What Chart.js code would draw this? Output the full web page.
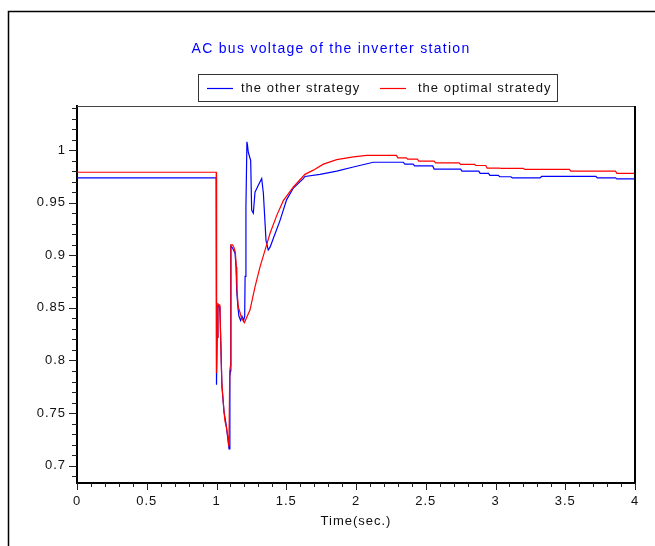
<!DOCTYPE html>
<html>
<head>
<meta charset="utf-8">
<title>AC bus voltage of the inverter station</title>
<script src="https://cdn.jsdelivr.net/npm/chart.js@4.4.1/dist/chart.umd.min.js"></script>
<style>
  html, body { margin: 0; padding: 0; background: #fff; }
</style>
</head>
<body>
<canvas id="busChart" width="655" height="546"></canvas>
<script>
const chartTitle = 'AC bus voltage of the inverter station';
const seriesNames = ['the other strategy', 'the optimal stratedy'];
const seriesColors = ['#0000ff', '#ff0000'];
const xAxisTitle = 'Time(sec.)';

// blue trace
const otherTime = [0, 0.998, 1.0, 1.004, 1.01, 1.02, 1.025, 1.03, 1.039, 1.054, 1.068, 1.079, 1.09, 1.096, 1.1,
  1.103, 1.115, 1.133, 1.14, 1.145, 1.154, 1.161, 1.173, 1.183, 1.194, 1.202, 1.205, 1.211, 1.218, 1.222, 1.228,
  1.245, 1.252, 1.264, 1.276, 1.297, 1.324, 1.336, 1.355, 1.371, 1.385, 1.407, 1.455, 1.503, 1.551, 1.622, 1.634,
  1.742, 1.862, 1.981, 2.124, 2.34, 2.35, 2.41, 2.42, 2.55, 2.56, 2.75, 2.76, 2.88, 2.89, 2.95, 2.96, 3.02, 3.03,
  3.11, 3.12, 3.32, 3.33, 3.72, 3.73, 3.86, 3.87, 4.0];
const otherVoltage = [0.9737, 0.9737, 0.777, 0.822, 0.852, 0.851, 0.846, 0.821, 0.775, 0.751, 0.740, 0.728, 0.716, 0.785, 0.79,
  0.909, 0.907, 0.902, 0.889, 0.866, 0.85, 0.842, 0.838, 0.842, 0.838, 0.842, 0.88, 0.945, 1.008, 1.005, 0.998,
  0.990, 0.943, 0.94, 0.960, 0.966, 0.973, 0.959, 0.914, 0.905, 0.908, 0.916, 0.933, 0.953, 0.964, 0.973, 0.975,
  0.977, 0.980, 0.984, 0.9885, 0.9885, 0.9867, 0.9867, 0.985, 0.985, 0.982, 0.982, 0.980, 0.980, 0.978, 0.978, 0.976, 0.976, 0.9747,
  0.9747, 0.9737, 0.9737, 0.975, 0.975, 0.9737, 0.9737, 0.9727, 0.9727];

// red trace
const optimalTime = [0, 0.998, 1.0, 1.005, 1.01, 1.02, 1.025, 1.03, 1.038, 1.054, 1.061, 1.072, 1.082, 1.089, 1.095, 1.1,
  1.103, 1.115, 1.125, 1.135, 1.142, 1.147, 1.156, 1.168, 1.18, 1.19, 1.2, 1.22, 1.24, 1.276, 1.312, 1.348, 1.384,
  1.432, 1.479, 1.551, 1.634, 1.694, 1.766, 1.862, 1.981, 2.077, 2.29, 2.30, 2.36, 2.37, 2.44, 2.45, 2.56, 2.57,
  2.74, 2.75, 2.85, 2.86, 2.93, 2.94, 3.03, 3.04, 3.20, 3.21, 3.53, 3.54, 3.86, 3.87, 4.0];
const optimalVoltage = [0.979, 0.979, 0.788, 0.822, 0.854, 0.853, 0.848, 0.822, 0.779, 0.751, 0.742, 0.736, 0.727, 0.718, 0.79, 0.795,
  0.91, 0.91, 0.9075, 0.903, 0.889, 0.867, 0.851, 0.846, 0.84, 0.838, 0.836, 0.842, 0.848, 0.870, 0.889, 0.905, 0.921,
  0.938, 0.952, 0.965, 0.977, 0.981, 0.9867, 0.991, 0.9937, 0.995, 0.995, 0.9927, 0.9927, 0.9914, 0.9914, 0.9895, 0.9895, 0.988,
  0.988, 0.9864, 0.9864, 0.9854, 0.9854, 0.983, 0.983, 0.9826, 0.9826, 0.9817, 0.9817, 0.980, 0.980, 0.978, 0.978];

const FONT = '"Liberation Sans", Arial, sans-serif';

function toPoints(ts, vs) {
  return ts.map((t, i) => ({ x: t, y: vs[i] }));
}

// frame, minor/major ticks, title and boxed legend
const decorPlugin = {
  id: 'decor',
  beforeDraw(chart) {
    chart.ctx.letterSpacing = '1px';
  },
  afterDraw(chart) {
    const { ctx, chartArea: a, scales: { x, y } } = chart;
    ctx.save();
    ctx.strokeStyle = '#000';
    ctx.lineWidth = 1.5;
    ctx.beginPath();
    ctx.moveTo(8.5, 546); ctx.lineTo(8.5, 11.5); ctx.lineTo(655, 11.5);
    ctx.stroke();

    ctx.lineWidth = 1;
    ctx.strokeStyle = '#444';
    ctx.beginPath();
    ctx.moveTo(a.left, a.top + 0.5); ctx.lineTo(a.right, a.top + 0.5);
    ctx.stroke();
    ctx.lineWidth = 2;
    ctx.strokeStyle = '#000';
    ctx.beginPath();
    ctx.moveTo(a.right, a.top); ctx.lineTo(a.right, a.bottom);
    ctx.stroke();

    ctx.lineWidth = 1;
    ctx.strokeStyle = '#222';
    y.ticks.forEach(t => {
      const py = Math.round(y.getPixelForValue(t.value)) + 0.5;
      const len = t.label ? 8 : 5;
      ctx.beginPath(); ctx.moveTo(a.left - len, py); ctx.lineTo(a.left, py); ctx.stroke();
    });
    x.ticks.forEach(t => {
      const px = Math.round(x.getPixelForValue(t.value)) + 0.5;
      const len = t.label ? 7 : 4;
      ctx.beginPath(); ctx.moveTo(px, a.bottom); ctx.lineTo(px, a.bottom + len); ctx.stroke();
    });

    ctx.fillStyle = '#0000ff';
    ctx.font = '14px ' + FONT;
    ctx.letterSpacing = '1.3px';
    ctx.textAlign = 'center';
    ctx.textBaseline = 'middle';
    ctx.fillText(chartTitle, 331, 49);

    ctx.strokeStyle = '#333';
    ctx.strokeRect(198.5, 74.5, 359, 27);
    ctx.font = '13px ' + FONT;
    ctx.letterSpacing = '1px';
    ctx.textAlign = 'left';
    ctx.fillStyle = '#111';
    const items = [[207, 241], [380, 418]];
    items.forEach(([lx, tx], i) => {
      ctx.strokeStyle = seriesColors[i];
      ctx.lineWidth = 1.2;
      ctx.beginPath(); ctx.moveTo(lx, 88.5); ctx.lineTo(lx + 26, 88.5); ctx.stroke();
      ctx.fillText(seriesNames[i], tx, 88);
    });
    ctx.restore();
  }
};

const tickFont = { family: FONT, size: 13 };

new Chart(document.getElementById('busChart'), {
  type: 'line',
  data: {
    datasets: [
      { label: seriesNames[0], data: toPoints(otherTime, otherVoltage), borderColor: seriesColors[0], order: 1 },
      { label: seriesNames[1], data: toPoints(optimalTime, optimalVoltage), borderColor: seriesColors[1], order: 0 }
    ]
  },
  options: {
    responsive: false,
    animation: false,
    layout: { padding: { top: 106, right: 20, left: 0, bottom: 0 } },
    elements: { point: { radius: 0 }, line: { borderWidth: 1.2, tension: 0 } },
    plugins: { legend: { display: false }, title: { display: false }, tooltip: { enabled: false } },
    scales: {
      x: {
        type: 'linear', min: 0, max: 4,
        grid: { display: false, drawTicks: false },
        border: { display: true, color: '#000', width: 2 },
        ticks: {
          stepSize: 0.1, autoSkip: false, maxRotation: 0, padding: 11, includeBounds: false,
          color: '#111', font: tickFont,
          callback: v => (Math.round(v * 10) % 5 === 0 ? String(Math.round(v * 10) / 10) : '')
        },
        title: { display: true, text: xAxisTitle, color: '#111', font: tickFont, padding: { top: 0, bottom: 17 } },
        afterFit: s => { s.height = 63; }
      },
      y: {
        type: 'linear', min: 0.6835, max: 1.042,
        grid: { display: false, drawTicks: false },
        border: { display: true, color: '#000', width: 2 },
        ticks: {
          stepSize: 0.01, autoSkip: false, padding: 11, includeBounds: false,
          color: '#111', font: tickFont,
          callback: v => (Math.round(v * 100) % 5 === 0 ? String(Math.round(v * 100) / 100) : '')
        },
        afterFit: s => { s.width = 77; }
      }
    }
  },
  plugins: [decorPlugin]
});
</script>
</body>
</html>
